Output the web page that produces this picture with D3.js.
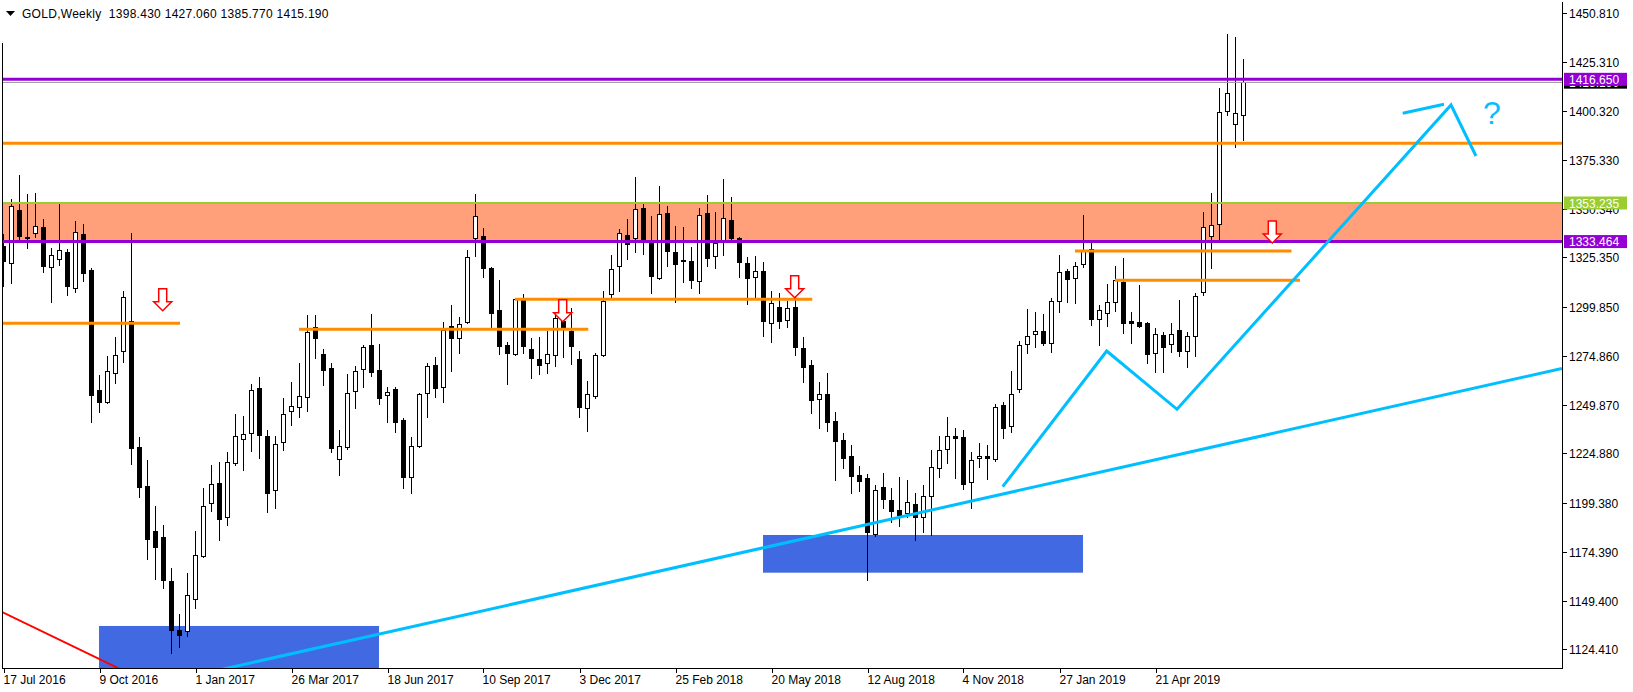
<!DOCTYPE html>
<html><head><meta charset="utf-8">
<script src="https://cdn.jsdelivr.net/npm/d3@7/dist/d3.min.js"></script>
<style>
body{margin:0;background:#fff;}
svg{display:block;}
text{font-family:"Liberation Sans",Arial,sans-serif;font-size:12px;}
</style>
</head><body>
<svg id="c" width="1633" height="692"></svg>
<script>
// ---- Weekly GOLD candles (17 Jul 2016 .. 7 Jul 2019) ----
const opens=[1331.19,1322.63,1349.65,1335.80,1338.01,1340.93,1320.58,1324.37,1327.96,1309.81,1337.35,1318.89,1257.36,1251.37,1265.93,1277.51,1292.89,1227.99,1208.14,1185.07,1181.99,1159.44,1134.31,1133.95,1150.36,1172.41,1199.58,1209.53,1192.40,1220.09,1232.39,1235.16,1258.39,1233.78,1205.94,1230.55,1246.44,1248.49,1253.93,1289.51,1275.82,1268.49,1221.83,1228.29,1257.00,1267.98,1280.28,1267.62,1254.64,1257.72,1241.98,1212.91,1228.65,1255.67,1270.03,1259.06,1290.18,1283.87,1292.38,1335.45,1336.17,1319.91,1298.23,1280.28,1275.67,1303.87,1278.23,1273.10,1271.05,1275.16,1292.59,1287.77,1273.10,1247.98,1254.44,1275.16,1306.43,1320.79,1336.68,1335.14,1350.52,1332.89,1314.63,1347.96,1327.96,1323.90,1323.50,1313.40,1347.96,1326.22,1334.42,1344.37,1335.14,1322.32,1315.15,1318.38,1291.56,1299.92,1293.41,1299.92,1278.74,1270.18,1252.60,1255.16,1241.47,1231.73,1223.52,1213.78,1212.09,1183.69,1207.48,1200.96,1195.84,1194.15,1198.76,1192.10,1203.17,1217.22,1226.96,1233.63,1233.11,1210.04,1222.34,1223.37,1221.83,1249.52,1238.75,1257.72,1280.79,1285.92,1287.46,1281.31,1302.99,1318.22,1314.63,1321.81,1329.50,1293.61,1296.69,1302.33,1312.89,1292.74,1292.23,1291.71,1276.18,1285.56,1280.95,1288.13,1277.51,1285.05,1307.76,1336.47,1342.32,1400.41,1393.59,1398.43];
const highs=[1337.35,1355.14,1367.60,1357.85,1358.21,1344.88,1330.17,1353.09,1329.50,1344.01,1342.47,1319.76,1265.05,1274.80,1284.69,1308.12,1337.71,1233.11,1221.47,1197.89,1188.15,1165.95,1142.52,1163.69,1185.07,1207.27,1218.91,1220.45,1225.73,1245.06,1244.03,1260.44,1264.03,1236.85,1233.93,1253.11,1261.46,1271.21,1295.82,1295.82,1278.38,1271.21,1236.85,1265.57,1269.67,1280.44,1296.33,1280.95,1258.75,1258.75,1242.85,1233.11,1255.67,1271.05,1274.13,1292.07,1300.94,1294.64,1329.14,1357.85,1340.27,1320.27,1313.76,1282.13,1304.20,1306.58,1283.87,1284.38,1287.61,1296.69,1295.30,1299.25,1277.36,1261.98,1276.18,1308.12,1326.58,1339.76,1344.88,1366.42,1352.73,1346.57,1361.96,1351.70,1341.45,1340.93,1330.53,1350.52,1357.34,1348.47,1365.54,1356.16,1335.60,1325.55,1326.07,1322.99,1308.12,1306.94,1302.99,1309.81,1284.38,1272.74,1261.46,1265.93,1245.93,1235.32,1229.16,1218.40,1214.14,1208.66,1214.65,1206.96,1212.60,1211.22,1204.40,1208.66,1226.60,1233.78,1243.52,1237.73,1236.85,1225.42,1230.04,1229.16,1250.03,1251.06,1267.10,1282.49,1298.89,1297.20,1296.33,1304.38,1326.58,1319.25,1322.84,1347.09,1332.89,1300.94,1311.56,1320.94,1325.04,1297.20,1311.20,1292.07,1289.00,1287.25,1291.56,1303.51,1287.25,1306.94,1348.47,1358.37,1412.05,1439.89,1438.20,1427.06];
const lows=[1310.68,1312.38,1334.78,1330.32,1335.96,1318.02,1302.64,1321.45,1306.07,1307.76,1313.40,1241.11,1246.24,1250.55,1260.80,1271.57,1219.27,1202.66,1170.71,1160.46,1156.00,1122.67,1125.75,1131.24,1145.59,1171.74,1195.48,1180.46,1188.15,1218.91,1216.35,1226.24,1222.65,1194.97,1197.02,1226.60,1239.57,1243.67,1246.75,1273.92,1259.93,1225.73,1213.78,1226.96,1247.98,1259.06,1264.54,1250.03,1241.11,1235.98,1207.27,1204.71,1228.29,1243.67,1253.93,1251.37,1267.26,1276.49,1291.87,1326.22,1315.45,1289.00,1275.82,1260.44,1275.30,1276.49,1263.67,1265.72,1266.23,1269.82,1274.44,1270.54,1243.67,1236.49,1253.11,1274.80,1304.38,1308.12,1324.37,1328.27,1327.09,1307.25,1314.30,1320.94,1302.64,1312.89,1309.81,1307.25,1320.94,1320.07,1326.58,1334.80,1315.45,1301.46,1305.20,1285.20,1282.13,1289.31,1289.82,1275.46,1261.62,1245.72,1238.04,1236.49,1211.22,1217.53,1204.71,1205.73,1159.95,1182.66,1196.71,1189.84,1187.79,1192.40,1180.46,1184.71,1183.02,1212.91,1220.09,1212.09,1206.76,1196.71,1218.04,1211.58,1221.12,1232.91,1235.98,1256.49,1276.49,1279.56,1280.44,1277.00,1297.51,1302.64,1302.12,1320.58,1290.69,1280.44,1290.33,1298.02,1286.74,1281.31,1289.82,1271.36,1266.44,1266.44,1277.00,1274.95,1269.31,1274.95,1306.07,1320.07,1334.27,1398.36,1382.11,1385.77];
const closes=[1323.66,1351.70,1336.32,1335.20,1341.45,1320.94,1326.43,1329.14,1310.84,1338.22,1317.50,1254.80,1251.37,1267.10,1275.31,1304.89,1227.78,1207.78,1180.97,1177.02,1159.95,1134.47,1131.75,1152.10,1172.61,1197.74,1209.01,1191.38,1220.29,1233.63,1234.65,1257.21,1234.29,1204.71,1229.52,1244.90,1249.01,1254.13,1287.25,1284.18,1267.62,1227.78,1228.50,1255.67,1267.10,1279.26,1266.75,1253.42,1256.59,1241.11,1212.91,1228.65,1255.16,1269.52,1258.54,1288.13,1284.18,1291.05,1325.40,1346.42,1320.07,1297.00,1280.08,1276.49,1303.87,1280.08,1273.92,1270.03,1275.67,1294.12,1289.31,1280.08,1248.49,1255.16,1275.16,1302.84,1319.25,1337.71,1332.07,1350.01,1334.27,1315.97,1347.45,1328.78,1322.12,1323.40,1313.92,1346.93,1325.19,1332.89,1345.40,1335.14,1323.14,1314.94,1318.38,1292.89,1301.82,1292.89,1299.41,1279.56,1269.31,1252.39,1255.16,1241.11,1231.37,1222.65,1213.42,1210.86,1184.71,1205.94,1201.32,1195.48,1193.27,1199.79,1192.10,1202.86,1218.04,1226.45,1233.63,1232.60,1209.32,1221.32,1223.37,1222.34,1248.49,1238.04,1255.47,1280.59,1284.90,1287.46,1281.62,1303.15,1317.71,1314.12,1321.09,1329.14,1293.61,1298.23,1302.33,1313.76,1291.87,1291.56,1290.33,1275.67,1285.92,1279.26,1286.07,1277.51,1285.05,1305.56,1340.78,1341.81,1399.74,1409.48,1399.23,1415.19];

// ---- axis ticks ----
const xTickIdx=[0,12,24,36,48,60,72,84,96,108,120,132,144];
const xTickLabels=["17 Jul 2016","9 Oct 2016","1 Jan 2017","26 Mar 2017","18 Jun 2017","10 Sep 2017","3 Dec 2017","25 Feb 2018","20 May 2018","12 Aug 2018","4 Nov 2018","27 Jan 2019","21 Apr 2019"];
const yTickValues=[1450.810,1425.310,1400.320,1375.330,1350.340,1325.350,1299.850,1274.860,1249.870,1224.880,1199.380,1174.390,1149.400,1124.410];

// ---- horizontal levels ----
const levelPurpleTop=1416.650, levelGreen=1353.235, levelPurpleLow=1333.464, levelOrange=1383.85, lastPrice=1415.19;
// short orange segments: [startIdx, endIdx, price]
const orangeSegs=[[-0.5,22.06,1291.56],[36.94,73.1,1288.49],[63.94,101.1,1303.87],[133.94,161.0,1328.63],[138.94,162.06,1313.61]];
// zones: [idx0, idx1, priceTop, priceBottom]
const blueZones=[[11.94,46.94,1136.37,1090],[94.94,134.94,1183.02,1163.69]];
// trend lines as [idx, price] points
const trendMain=[[28.06,1114.83],[194.81,1268.39]];
const trendRed=[[-0.1,1143.39],[14.31,1114.83],[20,1092]];
const zigzag=[[124.9,1207.79],[137.9,1277.36],[146.69,1247.47],[180.94,1403.49],[184.06,1377.34]];
const zigShort=[[174.9,1399.23],[180.06,1403.85]];
// down arrows [idx, tip price]
const arrows=[[19.9,1298.03],[69.9,1292.39],[98.9,1304.69],[158.6,1332.7]];
const question=[184.94,1393.75];

const svg=d3.select('#c');
const L=2,R=1562,B=668;
const x=d3.scaleLinear().domain([0,155]).range([3.5,3.5+8*155]);
const y=d3.scaleLinear().domain([1124.41,1450.81]).range([649.3,12.7]);
const sn=v=>Math.round(v)+0.5;

svg.append('rect').attr('width',1633).attr('height',692).attr('fill','#fff');
const defs=svg.append('defs');
defs.append('clipPath').attr('id','clip').append('rect').attr('x',L+1).attr('y',0).attr('width',R-L-1).attr('height',B);

const g=svg.append('g').attr('clip-path','url(#clip)');
// salmon zone
g.append('rect').attr('x',L).attr('width',R-L).attr('y',y(levelGreen)).attr('height',y(levelPurpleLow)-y(levelGreen)).attr('fill','#FFA07A');
// blue zones
g.selectAll('rect.bz').data(blueZones).join('rect').attr('class','bz')
 .attr('x',d=>x(d[0])).attr('width',d=>x(d[1])-x(d[0]))
 .attr('y',d=>y(d[2])).attr('height',d=>y(d[3])-y(d[2])).attr('fill','#4169E1');

// candles
const data=d3.range(opens.length).map(i=>({i,o:opens[i],h:highs[i],l:lows[i],c:closes[i]}));
const cg=g.append('g');
cg.selectAll('line.w').data(data).join('line').attr('class','w')
 .attr('x1',d=>x(d.i)).attr('x2',d=>x(d.i))
 .attr('y1',d=>Math.round(y(d.h))).attr('y2',d=>Math.round(y(d.l))+1)
 .attr('stroke','#000').attr('stroke-width',1);
cg.selectAll('rect.b').data(data).join('rect').attr('class','b')
 .attr('x',d=>x(d.i)-2).attr('width',4)
 .attr('y',d=>sn(y(Math.max(d.o,d.c))))
 .attr('height',d=>Math.max(1,sn(y(Math.min(d.o,d.c)))-sn(y(Math.max(d.o,d.c)))))
 .attr('fill',d=>d.c>=d.o?'#fff':'#000').attr('stroke','#000').attr('stroke-width',1);

// horizontal lines
const hline=(p,col,w)=>g.append('line').attr('x1',L).attr('x2',R).attr('y1',y(p)).attr('y2',y(p)).attr('stroke',col).attr('stroke-width',w);
hline(levelGreen,'#9ACD32',2);
hline(levelPurpleLow,'#9400D3',3);
hline(levelOrange,'#FF8C00',3);
hline(levelPurpleTop,'#9400D3',3);
g.append('line').attr('x1',L).attr('x2',R).attr('y1',sn(y(lastPrice))).attr('y2',sn(y(lastPrice))).attr('stroke','#A0A0A0').attr('stroke-width',1);
g.selectAll('line.os').data(orangeSegs).join('line').attr('class','os')
 .attr('x1',d=>x(d[0])).attr('x2',d=>x(d[1])).attr('y1',d=>y(d[2])).attr('y2',d=>y(d[2]))
 .attr('stroke','#FF8C00').attr('stroke-width',3);

// trend lines
const ln=d3.line().x(d=>x(d[0])).y(d=>y(d[1]));
const tm=trendMain;
const slope=(tm[1][1]-tm[0][1])/(tm[1][0]-tm[0][0]);
const tmExt=[[tm[0][0]-10,tm[0][1]-10*slope],tm[1]];
g.append('path').attr('d',ln(tmExt)).attr('fill','none').attr('stroke','#00BFFF').attr('stroke-width',3);
g.append('path').attr('d',ln(trendRed)).attr('fill','none').attr('stroke','#FF0000').attr('stroke-width',2);
g.append('path').attr('d',ln(zigzag)).attr('fill','none').attr('stroke','#00BFFF').attr('stroke-width',3).attr('stroke-linejoin','miter');
g.append('path').attr('d',ln(zigShort)).attr('fill','none').attr('stroke','#00BFFF').attr('stroke-width',3);
g.append('text').attr('x',x(question[0])).attr('y',y(question[1])).attr('fill','#00BFFF').style('font-size','32px').text('?');

// arrows
const arrowPath='M-4,-22 L4,-22 L4,-9 L9,-9 L0,0 L-9,-9 L-4,-9 Z';
g.selectAll('path.ar').data(arrows).join('path').attr('class','ar')
 .attr('transform',d=>`translate(${x(d[0])},${y(d[1])})`)
 .attr('d',arrowPath).attr('fill','#fff').attr('stroke','#FF0000').attr('stroke-width',1.5);

// frame
svg.append('line').attr('x1',L+0.5).attr('x2',L+0.5).attr('y1',43).attr('y2',B+0.5).attr('stroke','#000');
svg.append('line').attr('x1',R+0.5).attr('x2',R+0.5).attr('y1',2).attr('y2',B+0.5).attr('stroke','#000');
svg.append('line').attr('x1',L).attr('x2',R+1).attr('y1',B+0.5).attr('y2',B+0.5).attr('stroke','#000');

// y axis
const ya=svg.append('g');
yTickValues.forEach(v=>{
  const yy=sn(y(v));
  ya.append('line').attr('x1',R).attr('x2',R+5).attr('y1',yy).attr('y2',yy).attr('stroke','#000');
  ya.append('text').attr('x',R+7).attr('y',yy+4.5).attr('fill','#000').text(v.toFixed(3));
});
// price labels
const plabel=(p,bg)=>{
  const yy=y(p);
  ya.append('rect').attr('x',R+2).attr('y',yy-6.5).attr('width',63).attr('height',13).attr('fill',bg);
  ya.append('text').attr('x',R+7).attr('y',yy+4.5).attr('fill','#fff').text(p.toFixed(3));
};
plabel(lastPrice,'#000');
plabel(levelPurpleTop,'#9400D3');
plabel(levelGreen,'#9ACD32');
plabel(levelPurpleLow,'#9400D3');

// x axis
xTickIdx.forEach((idx,k)=>{
  const xx=Math.round(x(idx))+0.5;
  svg.append('line').attr('x1',xx).attr('x2',xx).attr('y1',B).attr('y2',B+5).attr('stroke','#000');
  svg.append('text').attr('x',xx-1).attr('y',684).attr('fill','#000').text(xTickLabels[k]);
});

// header
svg.append('path').attr('d','M6,11 L15,11 L10.5,16 Z').attr('fill','#000');
svg.append('text').attr('x',22).attr('y',17.5).attr('fill','#000').style('letter-spacing','0.28px')
 .attr('xml:space','preserve').text('GOLD,Weekly  '+[opens[155],highs[155],lows[155],closes[155]].map(v=>v.toFixed(3)).join(' '));
</script>
</body></html>
